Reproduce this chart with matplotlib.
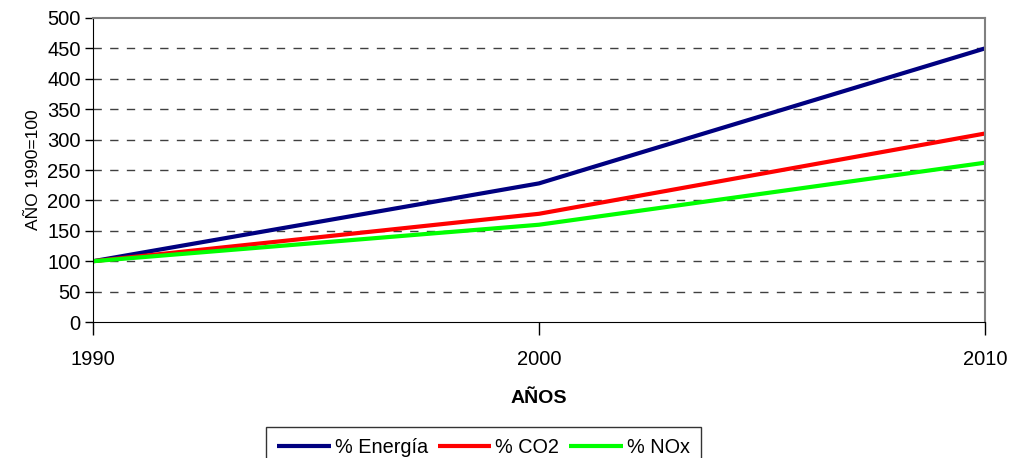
import matplotlib.pyplot as plt

plt.rcParams['font.family'] = ['Liberation Sans', 'DejaVu Sans']

years = [1990, 2000, 2010]
energia = [100, 228, 450]
co2 = [100, 178, 310]
nox = [100, 160, 262]

fig = plt.figure(figsize=(10.1, 4.58), dpi=100)
ax = fig.add_axes([0.0921, 0.2969, 0.8831, 0.6638])

ax.plot(years, energia, color='#000080', lw=3, label='% Energía', solid_capstyle='butt')
ax.plot(years, co2, color='#ff0000', lw=3, label='% CO2', solid_capstyle='butt')
ax.plot(years, nox, color='#00ff00', lw=3, label='% NOx', solid_capstyle='butt')

ax.set_xlim(1990, 2010)
ax.set_ylim(0, 500)
ax.set_xticks(years)
ax.set_yticks(range(0, 501, 50))

# dashed horizontal grid
for v in range(50, 500, 50):
    ax.axhline(v, color='#404040', lw=1, dashes=(6, 6), zorder=0)

ax.spines['top'].set_color('#808080')
ax.spines['top'].set_linewidth(1.5)
ax.spines['right'].set_color('#808080')
ax.spines['right'].set_linewidth(1.5)
ax.spines['left'].set_color('black')
ax.spines['bottom'].set_color('black')

ax.tick_params(axis='y', direction='out', length=6, width=1, labelsize=14.5, pad=3)
ax.tick_params(axis='x', direction='out', length=9, width=1, labelsize=14.5, pad=11)

ax.set_ylabel('AÑO 1990=100', fontsize=12.5, labelpad=4)
ax.set_xlabel('AÑOS', fontsize=14, fontweight='bold', labelpad=15)

fig.legend(loc='upper left', bbox_to_anchor=(266 / 1010, 1 - 427 / 458),
           borderaxespad=0, ncol=3, frameon=True, fancybox=False, edgecolor='black',
           fontsize=14.3, handlelength=2.7, handletextpad=0.2, columnspacing=0.5,
           borderpad=0.55)

fig.savefig('out.png', dpi=100)
